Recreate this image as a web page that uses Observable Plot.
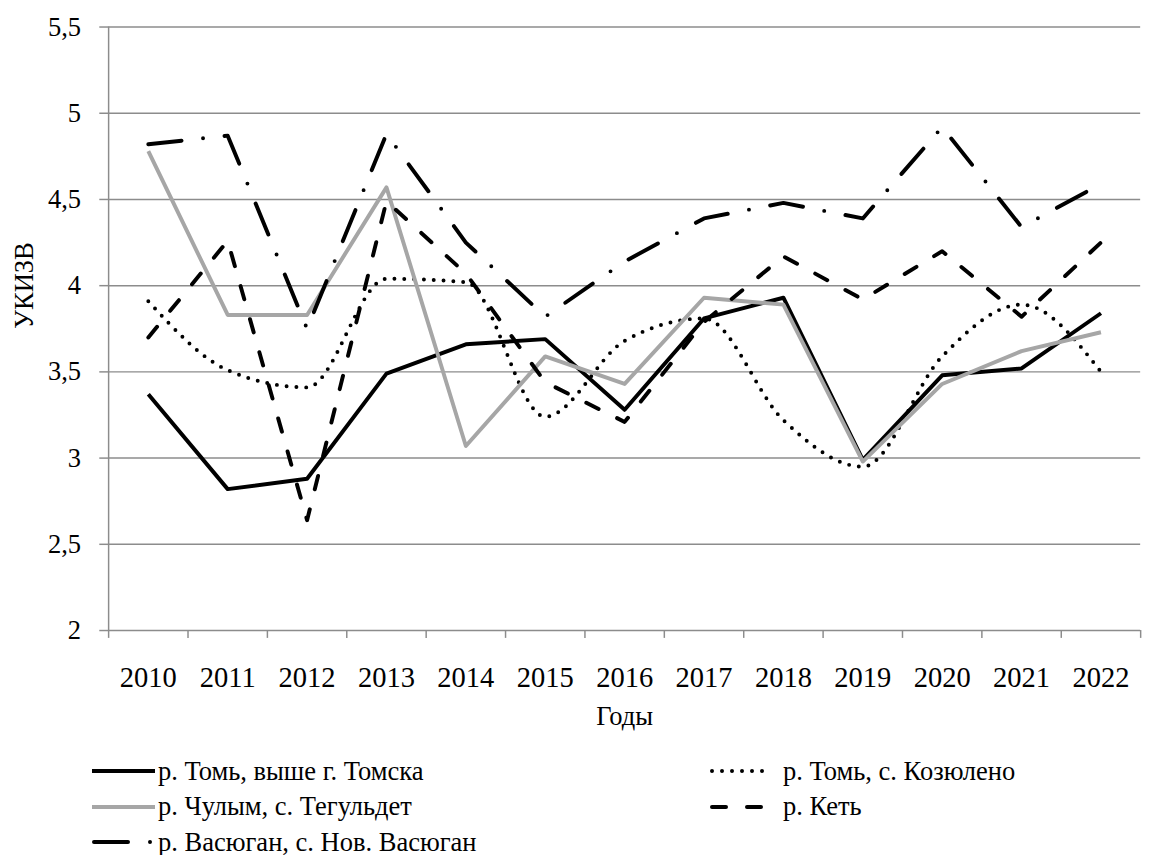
<!DOCTYPE html>
<html><head><meta charset="utf-8">
<script src="https://cdn.jsdelivr.net/npm/d3@7"></script>
<script src="https://cdn.jsdelivr.net/npm/@observablehq/plot@0.6"></script>
<style>
html,body{margin:0;padding:0;background:#fff;overflow:hidden;width:1150px;height:855px}
#chart{position:absolute;left:0;top:0}
#chart svg, #chart svg text{font-family:"Liberation Serif","Tinos","Times New Roman","DejaVu Serif",Times,serif !important}
.leg{position:absolute;display:flex;align-items:center;height:36px;font-family:"Liberation Serif","Tinos","Times New Roman","DejaVu Serif",Times,serif;font-size:26.5px;color:#000;white-space:nowrap}
.leg svg{display:block}
</style></head><body>
<div id="chart"></div>
<div id="legend"></div>
<script>
const years = [2010, 2011, 2012, 2013, 2014, 2015, 2016, 2017, 2018, 2019, 2020, 2021, 2022];
const seriesNames = ["р. Томь, выше г. Томска", "р. Томь, с. Козюлено", "р. Чулым, с. Тегульдет", "р. Кеть", "р. Васюган, с. Нов. Васюган"];
const tomAbove = [3.37, 2.82, 2.88, 3.49, 3.66, 3.69, 3.28, 3.81, 3.93, 2.99, 3.48, 3.52, 3.84];
const tomKozyuleno = [3.91, 3.51, 3.41, 4.04, 4.02, 3.24, 3.68, 3.81, 3.22, 2.95, 3.59, 3.89, 3.50];
const chulym = [4.78, 3.83, 3.83, 4.57, 3.07, 3.59, 3.43, 3.93, 3.89, 2.98, 3.43, 3.62, 3.73];
const ket = [3.70, 4.26, 2.64, 4.49, 4.07, 3.44, 3.21, 3.79, 4.17, 3.92, 4.20, 3.82, 4.25];
const vasyugan = [4.82, 4.87, 3.75, 4.88, 4.25, 3.82, 4.14, 4.39, 4.48, 4.39, 4.92, 4.34, 4.59];
const yTicks = [2, 2.5, 3, 3.5, 4, 4.5, 5, 5.5];
const xLabel = "Годы";
const yLabel = "УКИЗВ";

const seriesValues = [tomAbove, tomKozyuleno, chulym, ket, vasyugan];
const styles = [
  {stroke: "#000", dash: null, curve: "linear"},
  {stroke: "#000", dash: "0,10", curve: "monotone-x"},
  {stroke: "#a6a6a6", dash: null, curve: "linear"},
  {stroke: "#000", dash: "14,21", curve: "linear"},
  {stroke: "#000", dash: "34,22,0,22", curve: "linear"}
];
const data = seriesNames.flatMap((name, i) => years.map((yr, j) => ({series: name, year: yr, value: seriesValues[i][j]})));
const xDomain = [years[0] - 0.5, years[years.length - 1] + 0.5];
const boundaries = [...years.map(y => y - 0.5), years[years.length - 1] + 0.5];

const font = '"Liberation Serif", "Tinos", "Times New Roman", "DejaVu Serif", Times, serif';
const gray = "#8c8c8c";

const lineMarks = seriesNames.map((name, i) => Plot.line(data.filter(d => d.series === name), {
  x: "year", y: "value", stroke: styles[i].stroke, strokeWidth: 4,
  strokeDasharray: styles[i].dash || undefined, strokeLinecap: styles[i].dash ? "round" : "butt",
  strokeLinejoin: "round", curve: styles[i].curve
}));

const chart = Plot.plot({
  width: 1170, height: 735,
  marginLeft: 110, marginRight: 10, marginTop: 27, marginBottom: 94,
  style: {fontFamily: font, fontSize: "27px", color: "#000", background: "#fff", overflow: "visible"},
  x: {type: "linear", domain: xDomain},
  y: {domain: [2, 5.5]},
  marks: [
    Plot.gridY(yTicks, {stroke: gray, strokeOpacity: 1, strokeWidth: 1.5}),
    Plot.ruleX(xDomain.slice(0, 1), {stroke: gray, strokeWidth: 1.5}),
    Plot.axisY(yTicks, {tickSize: 9, tickPadding: 19, stroke: gray, strokeWidth: 1.5, fill: "#000", fontSize: 27, label: null, tickFormat: d => String(d).replace(".", ",")}),
    Plot.axisX(boundaries, {tickSize: 8, stroke: gray, strokeWidth: 1.5, label: null, tickFormat: () => ""}),
    Plot.axisX(years, {tickSize: 0, tickPadding: 37, fill: "#000", fontSize: 29, label: null, tickFormat: d => String(d)}),
    ...lineMarks,
    Plot.text([xLabel], {frameAnchor: "bottom", dy: 96, fontSize: 27, fill: "#000"}),
    Plot.text([yLabel], {frameAnchor: "left", rotate: -90, dx: -86, fontSize: 27, fill: "#000"})
  ]
});
document.getElementById("chart").appendChild(chart);

// legend
const legend = document.getElementById("legend");
const legPos = [
  {left: 92, top: 771, gap: 3},
  {left: 710, top: 771, gap: 10},
  {left: 92, top: 806.5, gap: 3},
  {left: 710, top: 806.5, gap: 10},
  {left: 92, top: 842, gap: 3}
];
seriesNames.forEach((name, i) => {
  const p = legPos[i];
  const div = document.createElement("div");
  div.className = "leg";
  div.style.left = p.left + "px";
  div.style.top = (p.top - 18) + "px";
  const s = styles[i];
  const dash = s.dash ? `stroke-dasharray="${s.dash}" stroke-linecap="round"` : "";
  const x1 = s.dash ? 2 : 0, x2 = s.dash ? 61 : 63;
  div.innerHTML = `<svg width="63" height="12"><line x1="${x1}" y1="6" x2="${x2}" y2="6" stroke="${s.stroke}" stroke-width="4" ${dash}/></svg><span style="margin-left:${p.gap}px">${name}</span>`;
  legend.appendChild(div);
});
</script>
</body></html>
